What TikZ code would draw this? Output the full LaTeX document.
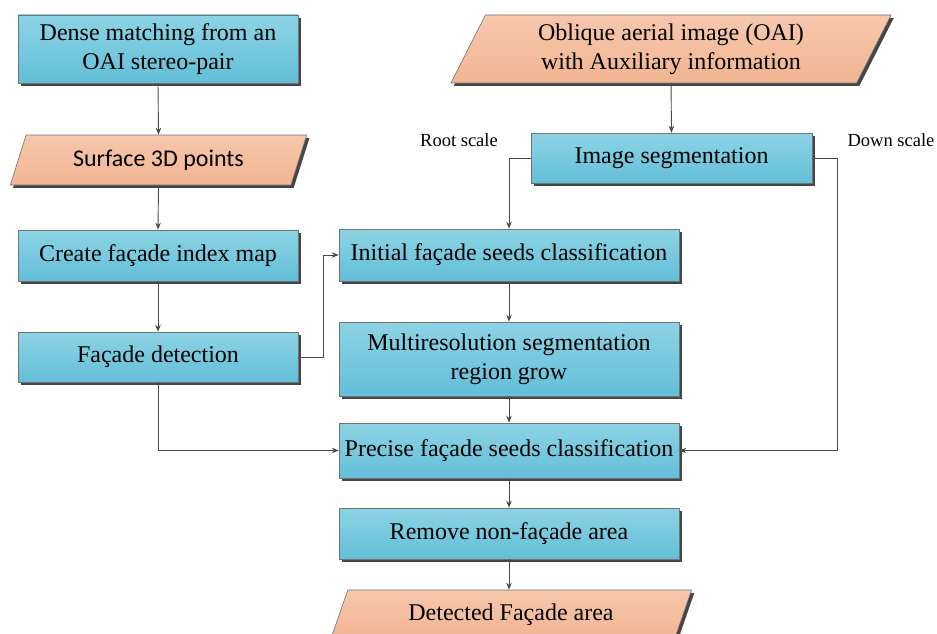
\documentclass[tikz,border=0pt]{standalone}
\usepackage{fontspec}
\setmainfont{Liberation Serif}
\newfontfamily\calib{Carlito}
\usetikzlibrary{shapes.geometric,shadows,arrows.meta}
\definecolor{bluetop}{HTML}{8DD3E4}
\definecolor{bluebot}{HTML}{62BFD8}
\definecolor{orgtop}{HTML}{F7C7AC}
\definecolor{orgbot}{HTML}{F1B592}
\definecolor{edge}{HTML}{4A4A4A}
\definecolor{shadowc}{HTML}{454545}
\tikzset{
  boxshadow/.style={drop shadow={shadow xshift=2.8pt,shadow yshift=-2.8pt,fill=shadowc,opacity=1}},
  procbox/.style={rectangle,draw=black!55,line width=0.6pt,top color=bluetop,bottom color=bluebot,
    boxshadow,align=center,inner sep=0pt,font=\fontsize{24}{29}\selectfont},
  databox/.style={trapezium,trapezium stretches=true,draw=black!55,line width=0.6pt,
    top color=orgtop,bottom color=orgbot,boxshadow,align=center,inner sep=0pt,
    font=\fontsize{24}{29}\selectfont},
  conn/.style={draw=edge,line width=0.9pt,-{Stealth[length=7pt,width=5.5pt]}},
  lbl/.style={font=\fontsize{18.5}{20}\selectfont,inner sep=0pt}
}
\begin{document}
\begin{tikzpicture}[x=1pt,y=-1pt]
\useasboundingbox (0,0) rectangle (937,634);
\clip (0,0) rectangle (937,634);
% left column
\node[procbox,minimum width=280pt,minimum height=68pt] (dense) at (158,49) {Dense matching from an\\OAI stereo-pair};
\node[databox,minimum width=297pt,minimum height=50pt,trapezium left angle=63.4,trapezium right angle=116.6,font=\calib\fontsize{24}{29}\selectfont] (surf) at (158.5,160) {Surface 3D points};
\node[procbox,minimum width=280pt,minimum height=51pt] (create) at (158,255.5) {Create façade index map};
\node[procbox,minimum width=280pt,minimum height=50pt] (facdet) at (158,357) {Façade detection};
% right column
\node[databox,minimum width=442pt,minimum height=68pt,trapezium left angle=64.1,trapezium right angle=115.9] (oai) at (671,49) {Oblique aerial image (OAI)\\with Auxiliary information};
\node[procbox,minimum width=281pt,minimum height=50pt] (imgseg) at (671.5,158) {Image segmentation};
\node[procbox,minimum width=340pt,minimum height=52pt] (init) at (509,255) {Initial façade seeds classification};
\node[procbox,minimum width=340pt,minimum height=74pt] (multi) at (509,359) {Multiresolution segmentation\\region grow};
\node[procbox,minimum width=340pt,minimum height=55pt] (prec) at (509,450.5) {Precise façade seeds classification};
\node[procbox,minimum width=340pt,minimum height=51pt] (remove) at (509,533.5) {Remove non-façade area};
\node[databox,minimum width=362pt,minimum height=50pt,trapezium left angle=63.4,trapezium right angle=116.6] (det) at (511,615) {Detected Façade area};
% labels
\node[lbl] (root) at (459,140) {Root scale};
\node[lbl] (down) at (891,140) {Down scale};
% connectors
\draw[conn] (dense.south) -- (surf.north);
\draw[conn] (surf.south) -- (create.north);
\draw[conn] (create.south) -- (facdet.north);
\draw[conn] (facdet.east) -- ++(25,0) |- (init.west);
\draw[conn] (facdet.south) |- (prec.west);
\draw[conn] (oai.south) -- (imgseg.north);
\draw[conn] (imgseg.west) -| (init.north);
\draw[conn] (imgseg.east) -- ++(25,0) |- (prec.east);
\draw[conn] (init.south) -- (multi.north);
\draw[conn] (multi.south) -- (prec.north);
\draw[conn] (prec.south) -- (remove.north);
\draw[conn] (remove.south) -- (remove.south |- det.north);
\end{tikzpicture}
\end{document}
